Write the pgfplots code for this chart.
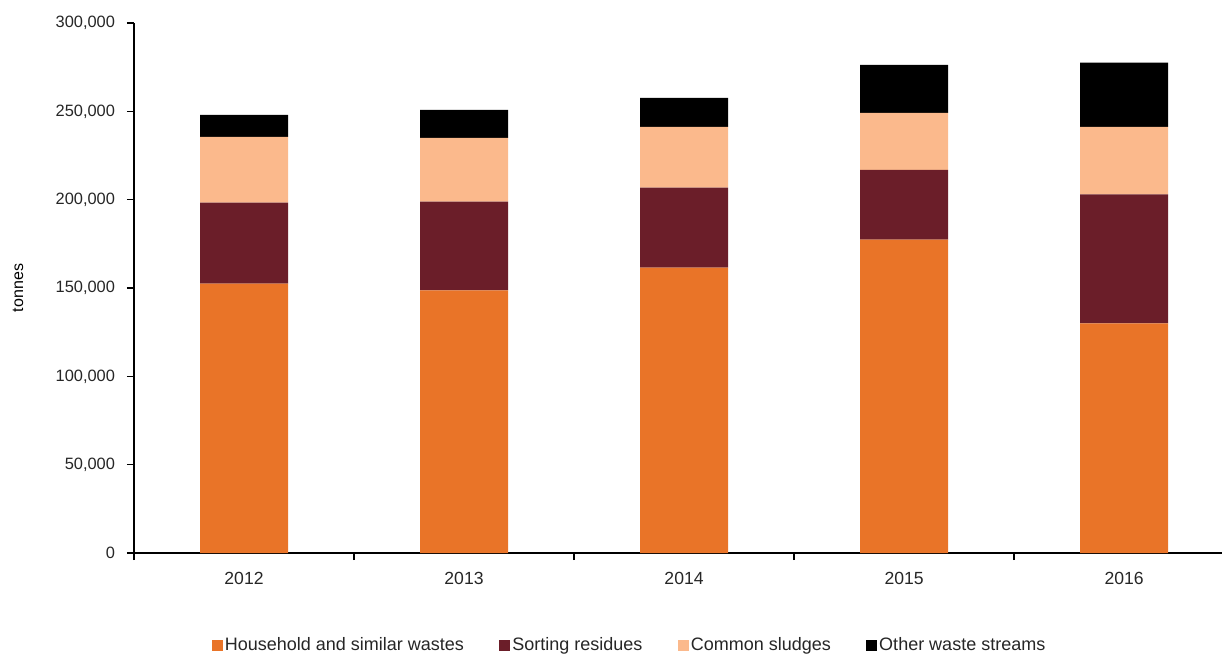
\documentclass[border=0pt]{standalone}
\usepackage{fontspec}
\setmainfont{Liberation Sans}
\usepackage{pgfplots}
\usepackage{pgfplotstable}
\pgfplotsset{compat=1.18}

\definecolor{household}{HTML}{E97428}
\definecolor{sorting}{HTML}{6B1E29}
\definecolor{sludge}{HTML}{FBB98C}
\definecolor{otherw}{HTML}{000000}

% values in tonnes
\pgfplotstableread{
x year household sorting sludge other
0 2012 152500 45800 37300 12400
1 2013 148600 50300 36100 15800
2 2014 161600 45200 34400 16400
3 2015 177400 39400 32400 27100
4 2016 130000 73000 38200 36400
}\wastes

\begin{document}
\begin{tikzpicture}
\begin{axis}[
    at={(0,0)}, anchor=south west,
    scale only axis,
    width=544pt, height=265pt,
    ybar stacked,
    bar width=0.4,
    xmin=-0.5, xmax=4.445,
    ymin=0, ymax=300000,
    axis lines*=left,
    axis line style={line width=0.9pt},
    xtick={0,1,2,3,4},
    xticklabels={2012,2013,2014,2015,2016},
    major x tick style={draw=none},
    minor xtick={-0.5,0.5,1.5,2.5,3.5},
    minor x tick style={line width=0.6pt, black},
    minor tick length=3.5pt,
    ytick={0,50000,100000,150000,200000,250000,300000},
    yticklabels={0,{50,000},{100,000},{150,000},{200,000},{250,000},{300,000}},
    scaled y ticks=false,
    major y tick style={line width=0.6pt, black},
    major tick length=3.5pt,
    tick align=outside,
    yticklabel style={xshift=-2.5pt, font=\fontsize{8.2pt}{10pt}\selectfont, text=black!85},
    xticklabel style={yshift=-2.5pt, font=\fontsize{8.8pt}{10pt}\selectfont, text=black!85},
    ylabel={tonnes},
    every axis y label/.style={at={(axis description cs:0,0.5)}, rotate=90, anchor=center, yshift=58pt,
        font=\fontsize{8pt}{10pt}\selectfont},
    legend style={draw=none, at={(axis description cs:0.455,0)}, anchor=center, yshift=-46pt,
        legend columns=-1,
        /tikz/every odd column/.append style={column sep=0.5pt},
        /tikz/every even column/.append style={column sep=17pt},
        nodes={inner sep=0.6pt, text=black!85},
        font=\fontsize{9pt}{10pt}\selectfont, inner sep=0pt},
    legend image code/.code={\fill[#1] (0pt,-2.75pt) rectangle (5.5pt,2.75pt);},
    legend cell align=left,
]
\addplot[fill=household, draw=none] table[x=x, y=household] {\wastes};
\addplot[fill=sorting, draw=none] table[x=x, y=sorting] {\wastes};
\addplot[fill=sludge, draw=none] table[x=x, y=sludge] {\wastes};
\addplot[fill=otherw, draw=none] table[x=x, y=other] {\wastes};
\legend{Household and similar wastes, Sorting residues, Common sludges, Other waste streams}
\end{axis}
\pgfresetboundingbox
\useasboundingbox (-67pt,-51pt) rectangle (545pt,276.5pt);
\end{tikzpicture}
\end{document}
